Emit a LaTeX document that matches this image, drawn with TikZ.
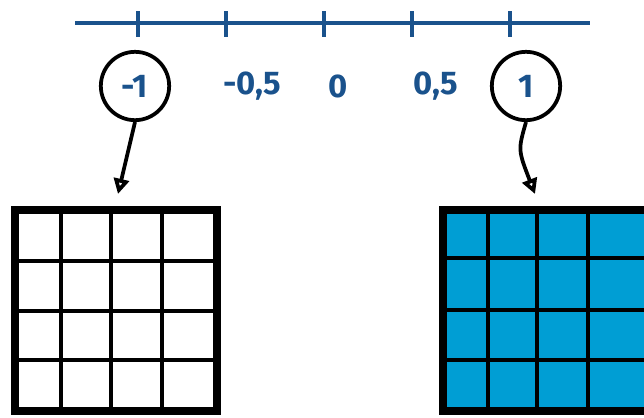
\documentclass[tikz,border=0pt]{standalone}
\usepackage{tikz}
\usetikzlibrary{arrows.meta}
\usepackage{fontspec}
\setmainfont{Fira Sans}
\definecolor{inkblue}{RGB}{26,82,140}
\definecolor{cellblue}{RGB}{0,158,212}

\begin{document}
\begin{tikzpicture}[x=0.03cm, y=-0.03cm,
    numtxt/.style={text=inkblue, font=\fontsize{28}{32}\selectfont\bfseries},
    picked/.style={draw=black, line width=3.2pt, circle, minimum size=2.05cm, inner sep=0pt},
    pointer/.style={line width=3.2pt, -{Triangle[open, length=13pt, width=13pt]}},
    cellline/.style={line width=3.4pt},
    gridframe/.style={line width=6pt}]
    \clip (0,0) rectangle (644,417);
    % Number line
    \draw[inkblue, line width=3.2pt] (75,23) -- (590,23);
    \foreach \t in {138,226,324,412,510}
        \draw[inkblue, line width=3pt] (\t,11) -- (\t,37);
    % Labels
    \node[numtxt, picked] (nm1) at (135,86) {-1};
    \node[numtxt] (nm05) at (252,86) {-0,5};
    \node[numtxt] (n0) at (338,86) {0};
    \node[numtxt] (np05) at (436,86) {0,5};
    \node[numtxt, picked] (np1) at (526,86) {1};
    % Arrows down to the grids
    \coordinate (lefttip) at (118,194);
    \coordinate (righttip) at (535,194);
    \draw[pointer] (nm1.south) -- (lefttip);
    \draw[pointer] (np1.south) .. controls (518,150) .. (righttip);
    % Empty grid
    \foreach \gx in {61,111,162} \draw[cellline] (\gx,210) -- (\gx,411);
    \foreach \gy in {261,311,360} \draw[cellline] (15,\gy) -- (217,\gy);
    \draw[gridframe] (15,210) rectangle (217,411);
    % Filled grid
    \fill[cellblue] (443,210) rectangle (660,411);
    \foreach \gx in {488,537,588} \draw[cellline] (\gx,210) -- (\gx,411);
    \foreach \gy in {258,310,360} \draw[cellline] (443,\gy) -- (660,\gy);
    \draw[gridframe] (660,210) -- (443,210) -- (443,411) -- (660,411);
\end{tikzpicture}
\end{document}
